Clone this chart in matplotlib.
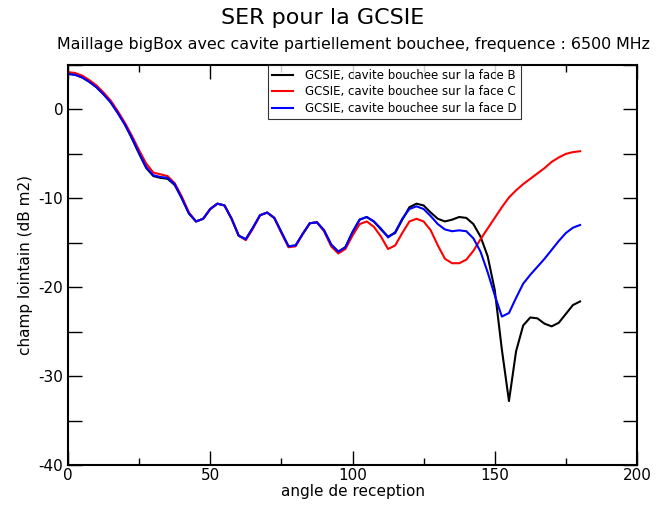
import matplotlib
matplotlib.use("Agg")
import matplotlib.pyplot as plt
from matplotlib.ticker import MultipleLocator, FuncFormatter

plt.rcParams["axes.unicode_minus"] = False
plt.rcParams["font.family"] = "DejaVu Sans"

# --- data (angle in degrees, SER in dB m2) ---
angles = [0, 2.5, 5, 7.5, 10, 12.5, 15, 17.5, 20, 22.5, 25, 27.5, 30, 32.5, 35, 37.5,
          40, 42.5, 45, 47.5, 50, 52.5, 55, 57.5, 60, 62.5, 65, 67.5, 70, 72.5, 75,
          77.5, 80, 82.5, 85, 87.5, 90, 92.5, 95, 97.5, 100, 102.5, 105, 107.5, 110,
          112.5, 115, 117.5, 120, 122.5, 125, 127.5, 130, 132.5, 135, 137.5, 140,
          142.5, 145, 147.5, 150, 152.5, 155, 157.5, 160, 162.5, 165, 167.5, 170,
          172.5, 175, 177.5, 180]

face_b = [4.0, 3.9, 3.6, 3.1, 2.5, 1.7, 0.8, -0.4, -1.7, -3.3, -5.0, -6.6, -7.5, -7.7,
          -7.8, -8.5, -10.0, -11.7, -12.6, -12.3, -11.2, -10.6, -10.8, -12.3, -14.2,
          -14.6, -13.3, -11.9, -11.6, -12.2, -13.8, -15.4, -15.3, -14.0, -12.8, -12.7,
          -13.6, -15.2, -16.0, -15.5, -13.8, -12.4, -12.1, -12.6, -13.5, -14.3, -13.9,
          -12.4, -11.0, -10.6, -10.8, -11.6, -12.3, -12.6, -12.4, -12.1, -12.2, -12.9,
          -14.3, -16.5, -20.3, -27.0, -32.8, -27.2, -24.3, -23.4, -23.5, -24.1, -24.4,
          -24.0, -23.0, -22.0, -21.6]

face_c = [4.2, 4.1, 3.8, 3.3, 2.7, 1.9, 1.0, -0.2, -1.5, -3.0, -4.6, -6.1, -7.1, -7.3,
          -7.5, -8.3, -9.8, -11.6, -12.6, -12.3, -11.2, -10.6, -10.8, -12.3, -14.2,
          -14.7, -13.4, -11.9, -11.6, -12.2, -13.9, -15.5, -15.4, -14.0, -12.8, -12.7,
          -13.7, -15.4, -16.2, -15.7, -14.2, -12.9, -12.6, -13.2, -14.3, -15.7, -15.3,
          -13.9, -12.6, -12.3, -12.6, -13.6, -15.3, -16.8, -17.3, -17.3, -16.9, -15.9,
          -14.6, -13.4, -12.2, -11.0, -9.9, -9.1, -8.4, -7.8, -7.2, -6.6, -5.9, -5.4,
          -5.0, -4.8, -4.7]

face_d = [4.0, 3.9, 3.6, 3.1, 2.5, 1.7, 0.8, -0.4, -1.7, -3.2, -4.9, -6.5, -7.4, -7.6,
          -7.7, -8.4, -10.0, -11.7, -12.6, -12.3, -11.2, -10.6, -10.8, -12.3, -14.2,
          -14.6, -13.3, -11.9, -11.6, -12.2, -13.8, -15.4, -15.3, -14.0, -12.8, -12.7,
          -13.6, -15.2, -16.0, -15.5, -13.8, -12.4, -12.1, -12.6, -13.4, -14.4, -13.8,
          -12.3, -11.2, -10.9, -11.2, -12.0, -12.9, -13.5, -13.7, -13.6, -13.7, -14.5,
          -16.0, -18.3, -20.9, -23.3, -22.9, -21.2, -19.6, -18.6, -17.7, -16.8, -15.8,
          -14.8, -13.9, -13.3, -13.0]

labels = ["GCSIE, cavite bouchee sur la face B",
          "GCSIE, cavite bouchee sur la face C",
          "GCSIE, cavite bouchee sur la face D"]
colors = ["black", "red", "blue"]

fig = plt.figure(figsize=(6.56, 5.07), dpi=100)
ax = fig.add_axes([0.1037, 0.0828, 0.8673, 0.789])

for ys, lab, col in zip([face_b, face_c, face_d], labels, colors):
    ax.plot(angles, ys, color=col, lw=1.5, label=lab)

ax.set_xlim(0, 200)
ax.set_ylim(-40, 5)

ax.xaxis.set_major_locator(MultipleLocator(50))
ax.xaxis.set_minor_locator(MultipleLocator(25))
ax.yaxis.set_major_locator(MultipleLocator(5))
ax.yaxis.set_major_formatter(FuncFormatter(lambda v, p: f"{int(v)}" if v % 10 == 0 else ""))
ax.tick_params(which="both", direction="in", top=True, right=True, labelsize=11, width=1.0)
ax.tick_params(which="major", length=10)
ax.tick_params(which="minor", length=5)
ax.tick_params(axis="x", pad=2)
for sp in ax.spines.values():
    sp.set_linewidth(1.5)

ax.set_xlabel("angle de reception", fontsize=11, labelpad=1)
ax.set_ylabel("champ lointain (dB m2)", fontsize=11)

fig.text(0.492, 0.965, "SER pour la GCSIE", ha="center", va="center", fontsize=16)
fig.text(0.539, 0.912, "Maillage bigBox avec cavite partiellement bouchee, frequence : 6500 MHz",
         ha="center", va="center", fontsize=11.4)

leg = fig.legend(loc="upper left", bbox_to_anchor=(268 / 656, 1 - 65 / 507),
                 fontsize=8.5, frameon=True, fancybox=False, borderpad=0.35,
                 handlelength=1.8, handletextpad=1.0, labelspacing=0.28,
                 borderaxespad=0)
leg.get_frame().set_edgecolor("black")
leg.get_frame().set_linewidth(0.8)

fig.savefig("out.png", dpi=100)
